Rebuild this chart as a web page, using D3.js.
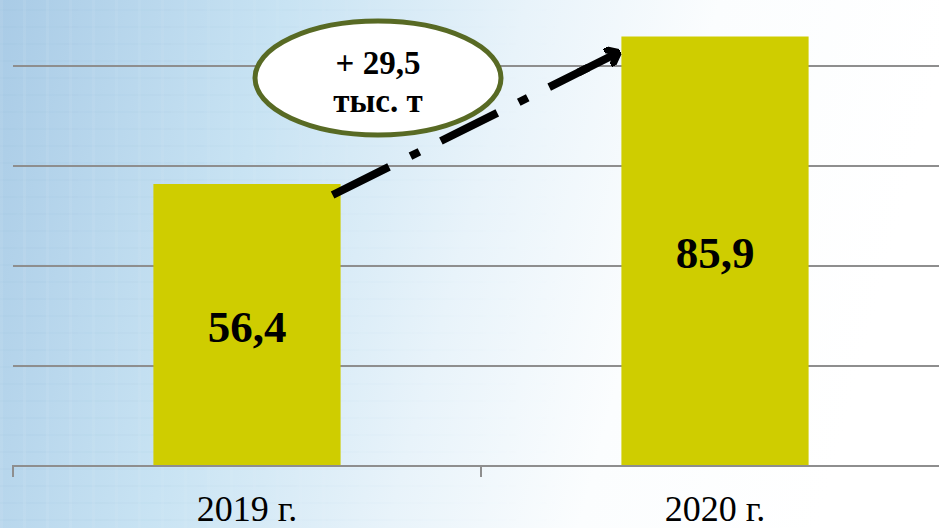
<!DOCTYPE html>
<html>
<head>
<meta charset="utf-8">
<script src="https://cdn.jsdelivr.net/npm/d3@7.9.0/dist/d3.min.js"></script>
<style>
  html, body { margin: 0; padding: 0; }
  body { width: 939px; height: 528px; overflow: hidden; }
  svg { display: block; font-family: "Liberation Serif", "Times New Roman", serif; }
</style>
</head>
<body>
<svg id="chart" width="939" height="528"></svg>
<script>
// data
const years = ["2019 г.", "2020 г."];
const values = [56.4, 85.9];
const valueLabels = ["56,4", "85,9"];
const gridValues = [20, 40, 60, 80];
const deltaLines = ["+ 29,5", "тыс. т"];

const svg = d3.select("#chart");
const defs = svg.append("defs");

// background gradient
let bg = defs.append("linearGradient").attr("id", "bg").attr("x1", 0).attr("x2", 1).attr("y1", 0).attr("y2", 0.15);
bg.append("stop").attr("offset", 0).attr("stop-color", "#a9cbe6");
bg.append("stop").attr("offset", 0.3).attr("stop-color", "#c8e3f3");
bg.append("stop").attr("offset", 0.55).attr("stop-color", "#e8f3fa");
bg.append("stop").attr("offset", 0.75).attr("stop-color", "#fbfdfe");
bg.append("stop").attr("offset", 1).attr("stop-color", "#ffffff");
svg.append("rect").attr("width", 939).attr("height", 528).attr("fill", "url(#bg)");

// faint texture
let pat = defs.append("pattern").attr("id", "tex").attr("width", 23).attr("height", 17).attr("patternUnits", "userSpaceOnUse");
pat.append("rect").attr("width", 3).attr("height", 17).attr("fill", "#ffffff").attr("opacity", 0.07);
pat.append("rect").attr("y", 9).attr("width", 23).attr("height", 2).attr("fill", "#8fb3d0").attr("opacity", 0.07);
let fade = defs.append("linearGradient").attr("id", "fade");
fade.append("stop").attr("offset", 0).attr("stop-color", "#fff").attr("stop-opacity", 1);
fade.append("stop").attr("offset", 0.6).attr("stop-color", "#fff").attr("stop-opacity", 0);
defs.append("mask").attr("id", "texMask").append("rect").attr("width", 939).attr("height", 528).attr("fill", "url(#fade)");
svg.append("rect").attr("width", 939).attr("height", 528).attr("fill", "url(#tex)").attr("mask", "url(#texMask)");

// scales
const x = d3.scaleBand().domain(years).range([13, 949]);
const y = d3.scaleLinear().domain([0, 90]).range([466, 16]);
const barW = x.bandwidth() * 0.4;

// gridlines
svg.append("g").selectAll("line").data(gridValues).join("line")
  .attr("x1", 13).attr("x2", 939)
  .attr("y1", d => y(d)).attr("y2", d => y(d))
  .attr("stroke", "#8e8e8e").attr("stroke-width", 2);

// bars
svg.append("g").selectAll("rect").data(values).join("rect")
  .attr("x", (d, i) => x(years[i]) + x.bandwidth() / 2 - barW / 2)
  .attr("width", barW)
  .attr("y", d => y(d))
  .attr("height", d => y(0) - y(d))
  .attr("fill", "#cfcd00");

// x axis
const xAxis = svg.append("g").attr("transform", `translate(0,${y(0)})`)
  .call(d3.axisBottom(x).tickSize(0));
xAxis.select(".domain").attr("stroke", "#8e8e8e").attr("stroke-width", 2)
  .attr("d", `M13,11V0H949V11`);
xAxis.selectAll(".tick text")
  .attr("font-family", "Liberation Serif, serif")
  .attr("font-size", 36).attr("fill", "#000")
  .attr("dy", 0).attr("y", 55);
// boundary tick between categories
svg.append("line").attr("x1", x(years[1])).attr("x2", x(years[1]))
  .attr("y1", y(0)).attr("y2", y(0) + 11)
  .attr("stroke", "#8e8e8e").attr("stroke-width", 2);

// value labels
svg.append("g").selectAll("text").data(values).join("text")
  .attr("x", (d, i) => x(years[i]) + x.bandwidth() / 2)
  .attr("y", d => (y(d) + y(0)) / 2 + 17)
  .attr("text-anchor", "middle")
  .attr("font-size", 45).attr("font-weight", "bold")
  .text((d, i) => valueLabels[i]);

// dash-dot arrow from first bar to second bar
defs.append("marker").attr("id", "arrow")
  .attr("viewBox", "-12 -10 14 20").attr("refX", 0).attr("refY", 0)
  .attr("markerWidth", 14).attr("markerHeight", 20)
  .attr("markerUnits", "userSpaceOnUse").attr("orient", "auto")
  .append("path").attr("d", "M-10,-8L0,0L-10,8")
  .attr("fill", "none").attr("stroke", "#000").attr("stroke-width", 7)
  .attr("stroke-linecap", "round").attr("stroke-linejoin", "round")
  .attr("transform", "scale(3.2)").attr("vector-effect", "non-scaling-stroke");

const x0 = x(years[0]) + x.bandwidth() / 2 + barW / 2 - 8;
const y0 = y(values[0]) + 11;
const x1 = x(years[1]) + x.bandwidth() / 2 - barW / 2 - 3;
const y1 = y(values[1]) + 16;
svg.append("path")
  .attr("d", d3.line()([[x0, y0], [x1 - 30, y1 + 15]]))
  .attr("stroke", "#000").attr("stroke-width", 8)
  .attr("stroke-dasharray", "63 24 10 24").attr("fill", "none");
svg.append("path")
  .attr("d", d3.line()([[x1 - 40, y1 + 20], [x1, y1]]))
  .attr("stroke", "#000").attr("stroke-width", 8)
  .attr("fill", "none").attr("marker-end", "url(#arrow)");

// ellipse callout
const cx = 378, cy = 78;
svg.append("ellipse").attr("cx", cx).attr("cy", cy).attr("rx", 123).attr("ry", 57)
  .attr("fill", "#fff").attr("stroke", "#586a24").attr("stroke-width", 5);
svg.append("g").selectAll("text").data(deltaLines).join("text")
  .attr("x", cx).attr("y", (d, i) => 74 + i * 38)
  .attr("text-anchor", "middle")
  .attr("font-size", 33).attr("font-weight", "bold")
  .text(d => d);
</script>
</body>
</html>
